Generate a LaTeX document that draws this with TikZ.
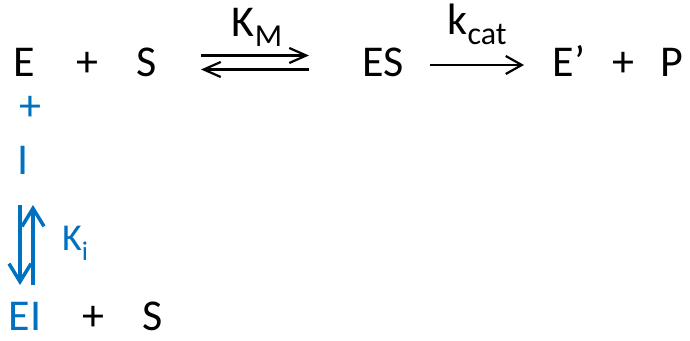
\documentclass[tikz,border=0pt]{standalone}
\usepackage{fontspec}
\setmainfont{Carlito}
\usetikzlibrary{arrows.meta}
\definecolor{inhblue}{RGB}{0,112,192}
\newcommand{\lowsub}[2][32]{\raisebox{-10pt}{\fontsize{#1}{#1}\selectfont #2}}

\begin{document}
\begin{tikzpicture}[x=1pt,y=1pt,
  sp/.style={anchor=base,inner sep=0pt,font=\fontsize{44}{52}\selectfont},
  fwd/.style={line width=2.2pt,-{Straight Barb[length=17pt,width=15pt]}},
  inh/.style={inhblue,line width=3.5pt,-{Straight Barb[length=18pt,width=22pt]}}]
\useasboundingbox (0,0) rectangle (690,340);
% E + S <=> ES -> E' + P
\node[sp] (E) at (24,263) {E};
\node[sp] (pa) at (87,263) {+};
\node[sp] (S) at (147,263) {S};
\node[sp] (ES) at (383,263) {ES};
\node[sp] (Ep) at (569,263) {E’};
\node[sp] (pb) at (623,263) {+};
\node[sp] (P) at (672,263) {P};
\node[sp] (KM) at (257,303) {K\lowsub{M}};
\node[sp] (kcat) at (477,305) {k\lowsub{cat}};
\coordinate (kmL) at (201,284.5);
\coordinate (kmR) at (309,284.5);
\coordinate (kmL2) at (201,270.5);
\coordinate (kmR2) at (309,270.5);
\coordinate (kcL) at (430,275);
\coordinate (kcR) at (524,275);
\draw[fwd] (kmL) -- (kmR);
\draw[fwd] (kmR2) -- (kmL2);
\draw[fwd,-{Straight Barb[length=16pt,width=18pt]}] (kcL) -- (kcR);
% inhibitor
\node[sp,inhblue] (pi) at (30,219) {+};
\node[sp,inhblue] (I) at (23.5,165) {I};
\node[sp,inhblue,font=\fontsize{38}{44}\selectfont] (Ki) at (75,89) {K\lowsub[27]{i}};
\coordinate (kiA) at (20,135);
\coordinate (kiB) at (20,55);
\coordinate (kiC) at (33,55);
\coordinate (kiD) at (33,135);
\draw[inh] (kiA) -- (kiB);
\draw[inh] (kiC) -- (kiD);
\node[sp,inhblue] (EI) at (25,10) {EI};
\node[sp] (pc) at (93,10) {+};
\node[sp] (S2) at (153,10) {S};
\end{tikzpicture}
\end{document}
